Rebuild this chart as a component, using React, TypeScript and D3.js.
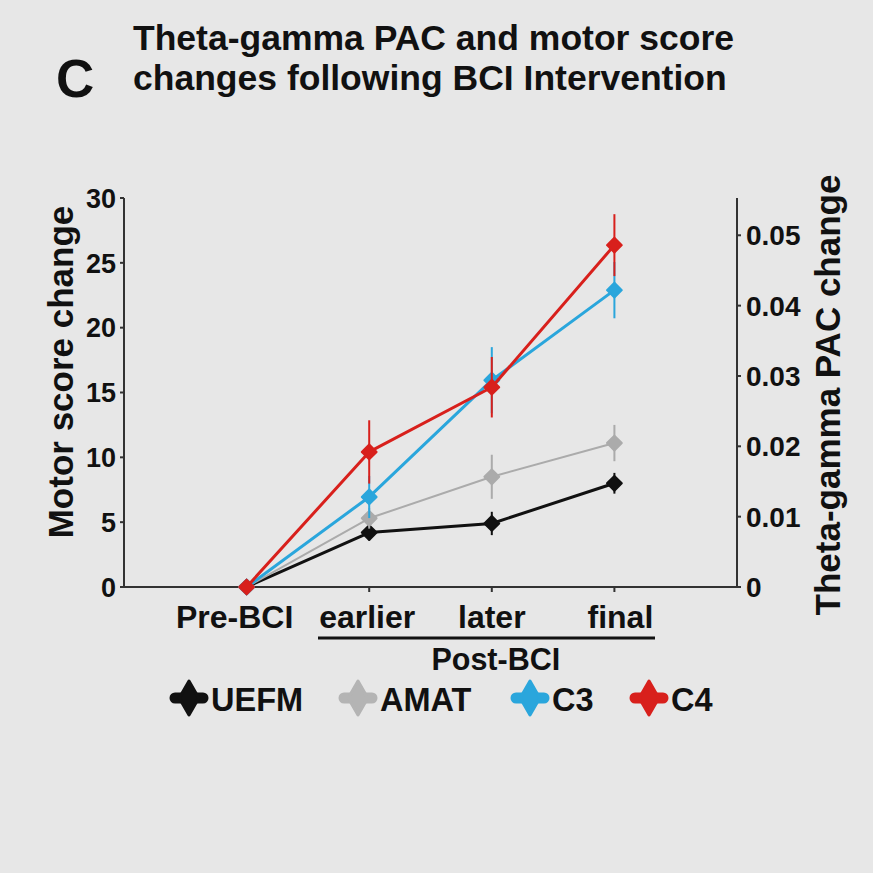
import React, { useEffect, useRef } from 'react';
import * as d3 from 'd3';

const categories = ['Pre-BCI', 'earlier', 'later', 'final'];

// motor scores (left axis)
const uefm = [0, 4.2, 4.9, 8.0];
const uefmErr = [0, 0.6, 0.9, 0.8];
const amat = [0, 5.3, 8.5, 11.1];
const amatErr = [0, 0.8, 1.7, 1.4];

// theta-gamma PAC (right axis)
const c3 = [0, 0.0128, 0.0294, 0.0422];
const c3Err = [0, 0.003, 0.0047, 0.004];
const c4 = [0, 0.0192, 0.0284, 0.0486];
const c4Err = [0, 0.0045, 0.0043, 0.0044];

const leftTicks = [0, 5, 10, 15, 20, 25, 30];
const rightTicks = [0, 0.01, 0.02, 0.03, 0.04, 0.05];

const FONT = '"Liberation Sans", Arial, sans-serif';

const App: React.FC = () => {
  const svgRef = useRef<SVGSVGElement>(null);

  useEffect(() => {
    if (!svgRef.current) return;
    const svg = d3.select(svgRef.current);
    svg.selectAll('*').remove();

    const W = 873;
    const H = 873;
    const left = 124, right = 737, top = 198, bottom = 587;

    svg.append('rect').attr('width', W).attr('height', H).attr('fill', '#e7e7e7');

    const x = d3.scaleLinear().domain([-1, 4]).range([left, right]);
    const yL = d3.scaleLinear().domain([0, 30]).range([bottom, top]);
    const yR = d3.scaleLinear().domain([0, 0.0553]).range([bottom, top]);

    const txt = (sel: d3.Selection<any, unknown, null, undefined>, size: number) =>
      sel.attr('font-family', FONT).attr('font-weight', 'bold').attr('font-size', size).attr('fill', '#111');

    // title
    txt(svg.append('text').attr('x', 56).attr('y', 97), 53).text('C');
    const title = txt(svg.append('text'), 35.5);
    title.append('tspan').attr('x', 133).attr('y', 50).text('Theta-gamma PAC and motor score');
    title.append('tspan').attr('x', 133).attr('y', 90).text('changes following BCI Intervention');

    const axisColor = '#333';

    // left axis
    svg.append('line').attr('x1', left).attr('x2', left).attr('y1', top).attr('y2', bottom)
      .attr('stroke', axisColor).attr('stroke-width', 2);
    leftTicks.forEach(t => {
      svg.append('line').attr('x1', left - 4).attr('x2', left).attr('y1', yL(t)).attr('y2', yL(t))
        .attr('stroke', axisColor).attr('stroke-width', 2);
      txt(svg.append('text').attr('x', left - 8).attr('y', yL(t)).attr('dy', '0.36em')
        .attr('text-anchor', 'end'), 27).text(t);
    });

    // right axis
    svg.append('line').attr('x1', right).attr('x2', right).attr('y1', top).attr('y2', bottom)
      .attr('stroke', axisColor).attr('stroke-width', 2);
    rightTicks.forEach(t => {
      svg.append('line').attr('x1', right).attr('x2', right + 4).attr('y1', yR(t)).attr('y2', yR(t))
        .attr('stroke', axisColor).attr('stroke-width', 2);
      txt(svg.append('text').attr('x', right + 9).attr('y', yR(t)).attr('dy', '0.36em')
        .attr('text-anchor', 'start'), 28).text(t === 0 ? '0' : d3.format('.2f')(t));
    });

    // x axis (labels nudged a little like the hand-placed originals)
    const labelNudge = [-12, -2, 0, 6];
    svg.append('line').attr('x1', left).attr('x2', right).attr('y1', bottom).attr('y2', bottom)
      .attr('stroke', axisColor).attr('stroke-width', 2);
    categories.forEach((c, i) => {
      svg.append('line').attr('x1', x(i)).attr('x2', x(i)).attr('y1', bottom).attr('y2', bottom + 5)
        .attr('stroke', axisColor).attr('stroke-width', 2);
      txt(svg.append('text').attr('x', x(i) + labelNudge[i]).attr('y', 628)
        .attr('text-anchor', 'middle'), 32).text(c);
    });
    svg.append('line').attr('x1', 318).attr('x2', 655).attr('y1', 638).attr('y2', 638)
      .attr('stroke', '#111').attr('stroke-width', 3);
    txt(svg.append('text').attr('x', (x(1) + x(3)) / 2 + 4).attr('y', 670)
      .attr('text-anchor', 'middle'), 30.5).text('Post-BCI');

    // axis titles
    txt(svg.append('text').attr('transform', `translate(73,372) rotate(-90)`)
      .attr('text-anchor', 'middle'), 35).text('Motor score change');
    txt(svg.append('text').attr('transform', `translate(840,395) rotate(-90)`)
      .attr('text-anchor', 'middle'), 35).text('Theta-gamma PAC change');

    const series = [
      { name: 'UEFM', values: uefm, err: uefmErr, y: yL, color: '#111111', width: 3 },
      { name: 'AMAT', values: amat, err: amatErr, y: yL, color: '#ababab', width: 2 },
      { name: 'C3', values: c3, err: c3Err, y: yR, color: '#2aa6dc', width: 3 },
      { name: 'C4', values: c4, err: c4Err, y: yR, color: '#d8201c', width: 3 },
    ];

    const marker = d3.symbol().type(d3.symbolSquare).size(110);

    series.forEach(s => {
      const g = svg.append('g');
      s.values.forEach((v, i) => {
        if (s.err[i] > 0) {
          g.append('line').attr('x1', x(i)).attr('x2', x(i))
            .attr('y1', s.y(v - s.err[i])).attr('y2', s.y(v + s.err[i]))
            .attr('stroke', s.color).attr('stroke-width', 2);
        }
      });
      const line = d3.line<number>().x((_, i) => x(i)).y(v => s.y(v));
      g.append('path').datum(s.values).attr('d', line).attr('fill', 'none')
        .attr('stroke', s.color).attr('stroke-width', s.width).attr('stroke-linejoin', 'round');
      s.values.forEach((v, i) => {
        g.append('path').attr('d', marker()).attr('transform', `translate(${x(i)},${s.y(v)}) rotate(45)`)
          .attr('fill', s.color).attr('stroke', s.color).attr('stroke-width', 2)
          .attr('stroke-linejoin', 'round');
      });
    });

    // legend
    const legendItems = [
      { s: series[0], mx: 189, tx: 211, color: '#111111' },
      { s: series[1], mx: 358, tx: 380, color: '#b4b4b4' },
      { s: series[2], mx: 530, tx: 552, color: '#2aa6dc' },
      { s: series[3], mx: 649, tx: 671, color: '#d8201c' },
    ];
    const legendDiamond = d3.symbol().type(d3.symbolDiamond).size(330);
    legendItems.forEach(({ s, mx, tx, color }) => {
      svg.append('line').attr('x1', mx - 14).attr('x2', mx + 14).attr('y1', 698).attr('y2', 698)
        .attr('stroke', color).attr('stroke-width', 11).attr('stroke-linecap', 'round');
      svg.append('path').attr('d', legendDiamond()).attr('transform', `translate(${mx},698)`)
        .attr('fill', color).attr('stroke', color).attr('stroke-width', 3)
        .attr('stroke-linejoin', 'round');
      txt(svg.append('text').attr('x', tx).attr('y', 711), 32.5).text(s.name);
    });
  }, []);

  return (
    <svg
      ref={svgRef}
      width={873}
      height={873}
      viewBox="0 0 873 873"
      style={{ position: 'absolute', left: 0, top: 0, display: 'block' }}
    />
  );
};

export default App;
